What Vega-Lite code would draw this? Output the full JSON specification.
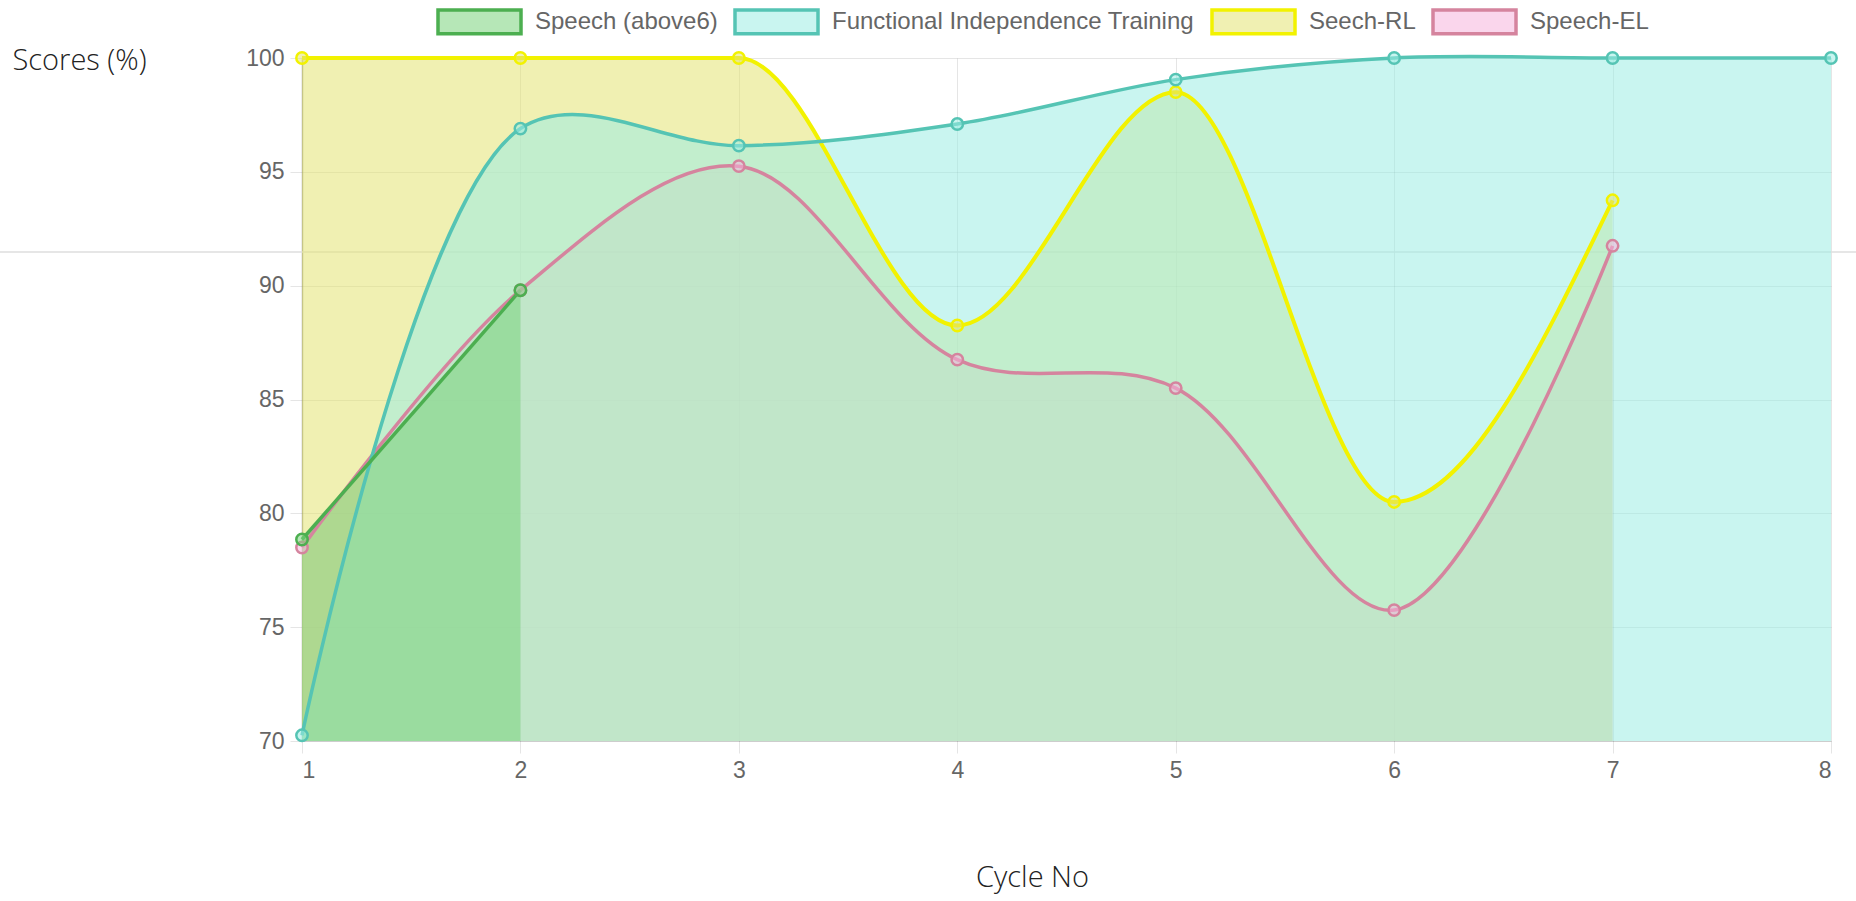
{
  "$schema": "https://vega.github.io/schema/vega-lite/v6.json",
  "width": 1529,
  "height": 683,
  "autosize": {"type": "none"},
  "padding": {"left": 302, "top": 58, "right": 25, "bottom": 160},
  "background": "white",
  "config": {
    "view": {"stroke": null},
    "axis": {
      "labelFont": "Liberation Sans",
      "labelFontSize": 23,
      "labelColor": "#666666",
      "gridColor": "rgba(0,0,0,0.1)",
      "tickColor": "rgba(0,0,0,0.1)",
      "tickSize": 12,
      "labelPadding": 6,
      "domainColor": "rgba(0,0,0,0.1)",
      "titleFont": "Open Sans",
      "titleFontWeight": 300,
      "titleFontSize": 29,
      "titleColor": "#222222"
    }
  },
  "data": {
    "values": [
      {"series": "Speech-EL", "x": 1, "y": 78.5},
      {"series": "Speech-EL", "x": 2, "y": 89.8},
      {"series": "Speech-EL", "x": 3, "y": 95.25},
      {"series": "Speech-EL", "x": 4, "y": 86.75},
      {"series": "Speech-EL", "x": 5, "y": 85.5},
      {"series": "Speech-EL", "x": 6, "y": 75.75},
      {"series": "Speech-EL", "x": 7, "y": 91.75},
      {"series": "Seech-RL", "x": 1, "y": 100},
      {"series": "Seech-RL", "x": 2, "y": 100},
      {"series": "Seech-RL", "x": 3, "y": 100},
      {"series": "Seech-RL", "x": 4, "y": 88.25},
      {"series": "Seech-RL", "x": 5, "y": 98.5},
      {"series": "Seech-RL", "x": 6, "y": 80.5},
      {"series": "Seech-RL", "x": 7, "y": 93.75},
      {"series": "Functional Independence Training", "x": 1, "y": 70.25},
      {"series": "Functional Independence Training", "x": 2, "y": 96.9},
      {"series": "Functional Independence Training", "x": 3, "y": 96.15},
      {"series": "Functional Independence Training", "x": 4, "y": 97.1},
      {"series": "Functional Independence Training", "x": 5, "y": 99.05},
      {"series": "Functional Independence Training", "x": 6, "y": 100},
      {"series": "Functional Independence Training", "x": 7, "y": 100},
      {"series": "Functional Independence Training", "x": 8, "y": 100},
      {"series": "Speech (above6)", "x": 1, "y": 78.85},
      {"series": "Speech (above6)", "x": 2, "y": 89.8}
    ]
  },
  "encoding": {
    "x": {
      "field": "x",
      "type": "quantitative",
      "scale": {"domain": [1, 8], "nice": false, "zero": false},
      "axis": {
        "values": [1, 2, 3, 4, 5, 6, 7, 8],
        "format": "d",
        "title": "Cycle No",
        "titleAlign": "center",
        "titleBaseline": "middle",
        "titleX": 730,
        "titleY": 136
      }
    },
    "y": {
      "field": "y",
      "type": "quantitative",
      "scale": {"domain": [70, 100], "nice": false, "zero": false},
      "axis": {
        "values": [70, 75, 80, 85, 90, 95, 100],
        "title": "Scores (%)",
        "titleAngle": 0,
        "titleAlign": "left",
        "titleBaseline": "middle",
        "titleX": -290,
        "titleY": 2,
        "domainColor": "rgba(0,0,0,0.3)",
        "domainWidth": 1.5
      }
    }
  },
  "layer": [
    {
      "transform": [{"filter": "datum.series === 'Speech (above6)' && datum.x === 1"}],
      "mark": {"type": "rule", "color": "#dedede", "strokeWidth": 1.5, "clip": false},
      "encoding": {
        "x": {"datum": -0.39},
        "x2": {"datum": 8.12},
        "y": {"datum": 91.48}
      }
    },
    {
      "transform": [{"filter": "datum.series === 'Speech-EL'"}],
      "mark": {"type": "area", "interpolate": "catmull-rom"},
      "encoding": {"y2": {"datum": 70}, "fill": {"field": "series", "type": "nominal"}}
    },
    {
      "transform": [{"filter": "datum.series === 'Seech-RL'"}],
      "mark": {"type": "area", "interpolate": "monotone"},
      "encoding": {"y2": {"datum": 70}, "fill": {"field": "series", "type": "nominal"}}
    },
    {
      "transform": [{"filter": "datum.series === 'Functional Independence Training'"}],
      "mark": {"type": "area", "interpolate": "catmull-rom"},
      "encoding": {"y2": {"datum": 70}, "fill": {"field": "series", "type": "nominal"}}
    },
    {
      "transform": [{"filter": "datum.series === 'Speech (above6)'"}],
      "mark": {"type": "area", "interpolate": "linear"},
      "encoding": {"y2": {"datum": 70}, "fill": {"field": "series", "type": "nominal"}}
    },
    {
      "transform": [{"filter": "datum.series === 'Speech-EL'"}],
      "mark": {"type": "line", "interpolate": "catmull-rom", "strokeWidth": 3.5},
      "encoding": {"stroke": {"field": "series", "type": "nominal"}}
    },
    {
      "transform": [{"filter": "datum.series === 'Seech-RL'"}],
      "mark": {"type": "line", "interpolate": "monotone", "strokeWidth": 4},
      "encoding": {"stroke": {"field": "series", "type": "nominal"}}
    },
    {
      "transform": [{"filter": "datum.series === 'Functional Independence Training'"}],
      "mark": {"type": "line", "interpolate": "catmull-rom", "strokeWidth": 3.5},
      "encoding": {"stroke": {"field": "series", "type": "nominal"}}
    },
    {
      "transform": [{"filter": "datum.series === 'Speech (above6)'"}],
      "mark": {"type": "line", "interpolate": "linear", "strokeWidth": 3.5},
      "encoding": {"stroke": {"field": "series", "type": "nominal"}}
    },
    {
      "mark": {"type": "point", "filled": true, "opacity": 1, "size": 130, "strokeWidth": 2.5},
      "encoding": {
        "fill": {
          "field": "series",
          "type": "nominal",
          "scale": {
            "domain": ["Speech (above6)", "Functional Independence Training", "Seech-RL", "Speech-EL"],
            "range": ["rgba(122,211,124,0.55)", "rgba(157,237,228,0.55)", "rgba(228,228,115,0.55)", "rgba(245,180,220,0.55)"]
          },
          "legend": {
            "orient": "none",
            "legendX": 134,
            "legendY": -80,
            "direction": "horizontal",
            "title": null,
            "symbolType": "M-1,-0.285H1V0.285H-1Z",
            "symbolSize": 6889,
            "symbolStrokeWidth": 3.5,
            "symbolOpacity": 1,
            "labelFont": "Liberation Sans",
            "labelFontSize": 24,
            "labelColor": "#666666",
            "labelOffset": 12,
            "labelLimit": 0,
            "columnPadding": 10
          }
        },
        "stroke": {
          "field": "series",
          "type": "nominal",
          "scale": {
            "domain": ["Speech (above6)", "Functional Independence Training", "Seech-RL", "Speech-EL"],
            "range": ["#4caf50", "#55c4b4", "#f2f200", "#d5849e"]
          },
          "legend": {
            "orient": "none",
            "legendX": 134,
            "legendY": -80,
            "direction": "horizontal",
            "title": null,
            "symbolType": "M-1,-0.285H1V0.285H-1Z",
            "symbolSize": 6889,
            "symbolStrokeWidth": 3.5,
            "symbolOpacity": 1,
            "labelFont": "Liberation Sans",
            "labelFontSize": 24,
            "labelColor": "#666666",
            "labelOffset": 12,
            "labelLimit": 0,
            "columnPadding": 10
          }
        }
      }
    }
  ]
}
